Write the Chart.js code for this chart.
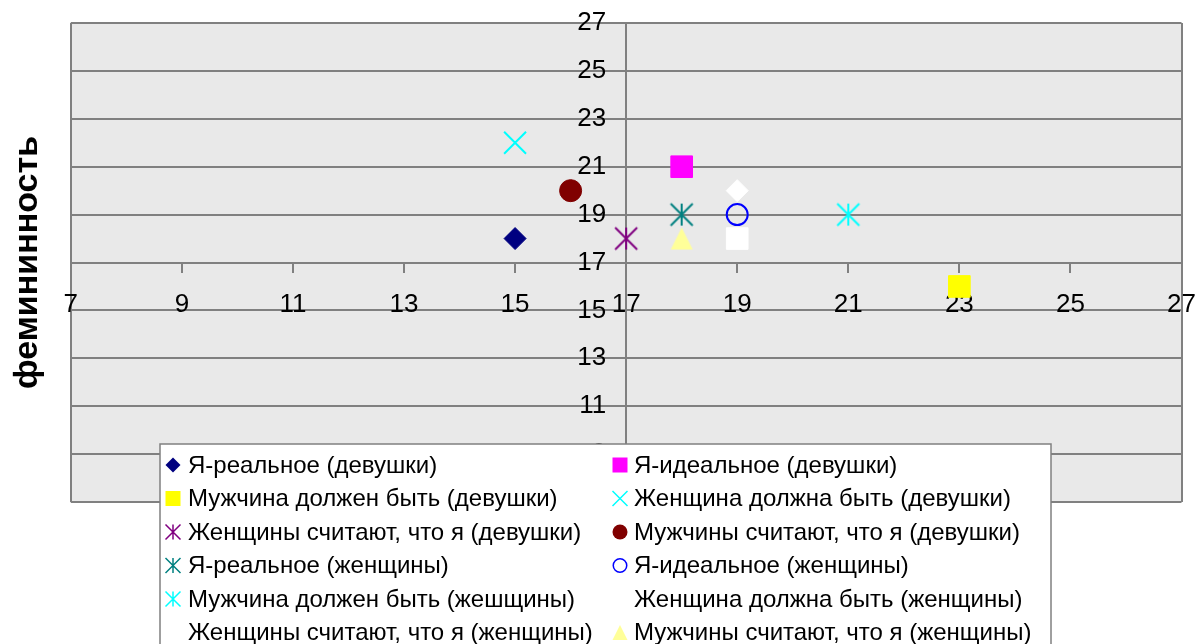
<!DOCTYPE html>
<html><head><meta charset="utf-8">
<script src="https://cdn.jsdelivr.net/npm/chart.js@4.4.1/dist/chart.umd.min.js"></script>
<style>html,body{margin:0;padding:0;background:#fff;overflow:hidden}#wrap{width:1199px;height:644px;position:relative}</style>
</head><body><div id="wrap"><canvas id="c"></canvas></div>
<script>
// ---- data ----
const seriesNames = [
  'Я-реальное (девушки)',
  'Я-идеальное (девушки)',
  'Мужчина должен быть (девушки)',
  'Женщина должна быть (девушки)',
  'Женщины считают, что я (девушки)',
  'Мужчины считают, что я (девушки)',
  'Я-реальное (женщины)',
  'Я-идеальное (женщины)',
  'Мужчина должен быть (жешщины)',
  'Женщина должна быть (женщины)',
  'Женщины считают, что я (женщины)',
  'Мужчины считают, что я (женщины)'
];
const xValues = [15, 18, 23, 15, 17, 16, 18, 19, 21, 19, 19, 18];
const yValues = [18, 21, 16, 22, 18, 20, 19, 19, 19, 20, 18, 18];
const axisMin = 7, axisMax = 27, axisStep = 2, axisCross = 17;
const yTitle = 'фемининность';

// ---- styles ----
const markerKinds = ['diamond','square','square','x','asterisk','circle','asterisk','ring','asterisk','diamond','square','triangle'];
const markerColors = ['#000080','#FF00FF','#FFFF00','#00FFFF','#800080','#800000','#008080','#0000FF','#00FFFF','#FFFFFF','#FFFFFF','#FFFF99'];
const FONT = "'Liberation Sans', Arial, sans-serif";

function drawMarker(ctx, kind, color, cx, cy, s) {
  ctx.save();
  ctx.fillStyle = color; ctx.strokeStyle = color; ctx.lineWidth = Math.max(1.5, s/5.5);
  ctx.beginPath();
  if (kind === 'diamond') {
    ctx.moveTo(cx, cy - s); ctx.lineTo(cx + s, cy); ctx.lineTo(cx, cy + s); ctx.lineTo(cx - s, cy); ctx.closePath(); ctx.fill();
  } else if (kind === 'square') {
    ctx.rect(cx - s, cy - s, 2*s, 2*s); ctx.fill();
  } else if (kind === 'circle') {
    ctx.arc(cx, cy, s, 0, Math.PI*2); ctx.fill();
  } else if (kind === 'ring') {
    ctx.arc(cx, cy, s - ctx.lineWidth/2, 0, Math.PI*2); ctx.stroke();
  } else if (kind === 'x') {
    ctx.moveTo(cx - s, cy - s); ctx.lineTo(cx + s, cy + s); ctx.moveTo(cx + s, cy - s); ctx.lineTo(cx - s, cy + s); ctx.stroke();
  } else if (kind === 'asterisk') {
    ctx.moveTo(cx - s, cy - s); ctx.lineTo(cx + s, cy + s); ctx.moveTo(cx + s, cy - s); ctx.lineTo(cx - s, cy + s);
    ctx.moveTo(cx, cy - s); ctx.lineTo(cx, cy + s); ctx.stroke();
  } else if (kind === 'triangle') {
    ctx.moveTo(cx, cy - s); ctx.lineTo(cx + s, cy + s); ctx.lineTo(cx - s, cy + s); ctx.closePath(); ctx.fill();
  }
  ctx.restore();
}
function markerCanvas(kind, color, s) {
  const c = document.createElement('canvas');
  const d = Math.ceil(2*s + 4);
  c.width = d; c.height = d;
  drawMarker(c.getContext('2d'), kind, color, d/2, d/2, s);
  return c;
}
function pointStyleFor(kind, color) {
  switch (kind) {
    case 'diamond': return {pointStyle:'rectRot', radius:11, bg:color, bw:1};
    case 'square': return {pointStyle:'rect', radius:15.3, bg:color, bw:1};
    case 'circle': return {pointStyle:'circle', radius:11, bg:color, bw:1};
    case 'ring': return {pointStyle:'circle', radius:10.5, bg:'rgba(0,0,0,0)', bw:2};
    case 'x': return {pointStyle:'crossRot', radius:15.5, bg:color, bw:2};
    default: return {pointStyle: markerCanvas(kind, color, 11), radius:11, bg:color, bw:1};
  }
}

const datasets = seriesNames.map((name, i) => {
  const st = pointStyleFor(markerKinds[i], markerColors[i]);
  return {
    label: name,
    data: [{x: xValues[i], y: yValues[i]}],
    pointStyle: st.pointStyle,
    pointRadius: st.radius,
    backgroundColor: st.bg,
    borderColor: markerColors[i],
    borderWidth: st.bw,
    showLine: false
  };
});

const plotBg = {
  id: 'plotBg',
  beforeDraw(chart) {
    const {ctx, chartArea: a} = chart;
    ctx.save();
    ctx.fillStyle = '#ffffff'; ctx.fillRect(0, 0, chart.width, chart.height);
    ctx.fillStyle = '#e9e9e9'; ctx.fillRect(a.left, a.top, a.right - a.left, a.bottom - a.top);
    ctx.restore();
  }
};

// shift y-axis tick labels left of the crossing axis (gap like the original)
const yLabelGap = {
  id: 'yLabelGap',
  afterLayout(chart) {
    const y = chart.scales.y;
    if (!y || y._gapPatched || typeof y._computeLabelItems !== 'function') return;
    const orig = y._computeLabelItems.bind(y);
    y._computeLabelItems = function (ca) {
      const items = orig(ca);
      try {
        items.forEach(it => {
          if (it && it.options && Array.isArray(it.options.translation)) it.options.translation[0] -= 20;
        });
      } catch (e) {}
      return items;
    };
    y._gapPatched = true;
    y._labelItems = null;
  }
};

const boxLegend = {
  id: 'boxLegend',
  afterDraw(chart) {
    const ctx = chart.ctx;
    const L = 160, T = 444, R = 1051, B = 700;
    ctx.save();
    ctx.fillStyle = '#ffffff';
    ctx.fillRect(L, T, R - L, B - T);
    ctx.strokeStyle = '#808080'; ctx.lineWidth = 1.5;
    ctx.strokeRect(L, T, R - L, B - T);
    ctx.font = '24px ' + FONT;
    ctx.textBaseline = 'middle'; ctx.textAlign = 'left'; ctx.fillStyle = '#000';
    chart.data.datasets.forEach((ds, i) => {
      const col = i % 2, row = Math.floor(i / 2);
      const cy = 465 + row * 33.5;
      const mx = col === 0 ? 173 : 620;
      const tx = col === 0 ? 188 : 634;
      drawMarker(ctx, markerKinds[i], markerColors[i], mx, cy, 7.5);
      ctx.fillStyle = '#000';
      ctx.fillText(ds.label, tx, cy + 1);
    });
    ctx.restore();
  }
};

const gridGray = '#808080';
new Chart(document.getElementById('c'), {
  type: 'scatter',
  data: {datasets},
  options: {
    responsive: true, maintainAspectRatio: false, animation: false, events: [],
    layout: {padding: {left: 0, top: 23, right: 14, bottom: 142}},
    plugins: {
      legend: {display: false},
      tooltip: {enabled: false},
      title: {display: true, text: yTitle, position: 'left', fullSize: false, color: '#000',
        font: {family: FONT, size: 34, weight: 'bold', lineHeight: 1.2}, padding: {top: 7, bottom: 23}}
    },
    scales: {
      x: {
        type: 'linear', min: axisMin, max: axisMax, position: {y: axisCross},
        afterFit(s) { s.paddingLeft = 0; s.paddingRight = 0; },
        ticks: {stepSize: axisStep, color: '#000', font: {family: FONT, size: 26}, padding: 18, maxRotation: 0, autoSkip: false},
        grid: {color: c => (c.tick && (c.tick.value === axisMin || c.tick.value === axisMax)) ? gridGray : 'rgba(0,0,0,0)',
               tickColor: gridGray, lineWidth: 2, tickLength: 9},
        border: {display: true, color: gridGray, width: 2}
      },
      y: {
        type: 'linear', min: axisMin, max: axisMax, position: {x: axisCross},
        afterFit(s) { s.paddingTop = 0; s.paddingBottom = 0; },
        ticks: {stepSize: axisStep, color: '#000', font: {family: FONT, size: 26}, padding: 10, autoSkip: false},
        grid: {color: gridGray, tickColor: gridGray, lineWidth: 2, tickLength: 8},
        border: {display: true, color: gridGray, width: 2}
      }
    }
  },
  plugins: [plotBg, yLabelGap, boxLegend]
});
</script></body></html>
